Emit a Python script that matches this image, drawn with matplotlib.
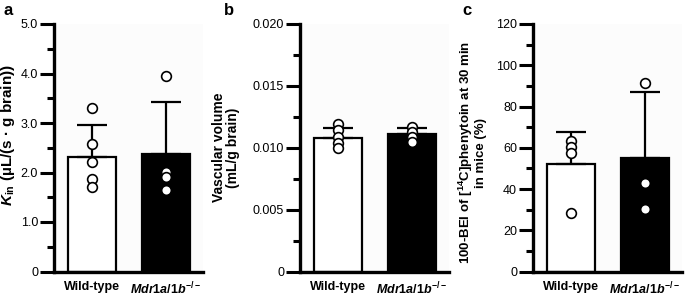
import matplotlib
matplotlib.use("Agg")
import matplotlib.pyplot as plt
from matplotlib.ticker import MultipleLocator

plt.rcParams["font.family"] = ["Liberation Sans", "DejaVu Sans"]
plt.rcParams["mathtext.fontset"] = "custom"
plt.rcParams["mathtext.rm"] = "Liberation Sans:bold"
plt.rcParams["mathtext.it"] = "Liberation Sans:bold:italic"
plt.rcParams["mathtext.bf"] = "Liberation Sans:bold"

groups = ["Wild-type", r"$\mathit{Mdr1a/1b}^{-/-}$"]

# panel a: Kin
kin_mean = [2.32, 2.38]
kin_sd = [0.64, 1.05]
kin_wt = [3.30, 2.58, 2.22, 1.87, 1.70]
kin_ko = [3.95, 2.02, 1.91, 1.65]

# panel b: vascular volume
vv_mean = [0.01076, 0.01111]
vv_sd = [0.00081, 0.00046]
vv_wt = [0.0119, 0.0114, 0.0109, 0.0104, 0.0100]
vv_ko = [0.0117, 0.0113, 0.0109, 0.0105]

# panel c: 100-BEI
bei_mean = [52.0, 54.9]
bei_sd = [15.8, 32.0]
bei_wt = [63.3, 60.2, 57.3, 28.5]
bei_ko = [91.2, 43.1, 30.1]

panels = [
    dict(letter="a", mean=kin_mean, sd=kin_sd, pts=[kin_wt, kin_ko],
         ylim=5.0, major=1.0, minor=0.5,
         ticklabels=["0", "1.0", "2.0", "3.0", "4.0", "5.0"],
         ylabel=r"$\mathit{K}_{\mathrm{in}}$ (µL/(s · g brain))", lsize=11,
         left=54, labelx=-0.25, labely=0.55),
    dict(letter="b", mean=vv_mean, sd=vv_sd, pts=[vv_wt, vv_ko],
         ylim=0.020, major=0.005, minor=0.0025,
         ticklabels=["0", "0.005", "0.010", "0.015", "0.020"],
         ylabel="Vascular volume\n(mL/g brain)", lsize=10,
         left=300, labelx=-0.405, labely=0.5),
    dict(letter="c", mean=bei_mean, sd=bei_sd, pts=[bei_wt, bei_ko],
         ylim=120, major=20, minor=10,
         ticklabels=["0", "20", "40", "60", "80", "100", "120"],
         ylabel="100-BEI of [$^{14}$C]phenytoin at 30 min\nin mice (%)", lsize=9.5,
         left=533, labelx=-0.31, labely=0.48),
]

W, H = 685, 297
fig = plt.figure(figsize=(W / 100, H / 100), dpi=100)

x = [0, 1]
colors = ["white", "black"]

for p in panels:
    ax = fig.add_axes([p["left"] / W, 1 - 271.5 / H, 149 / W, (271.5 - 24) / H])
    ax.bar(x, p["mean"], width=0.65, color=colors, edgecolor="black",
           linewidth=1.6, zorder=2)
    for i in x:
        ax.errorbar(x[i], p["mean"][i], yerr=[[0], [p["sd"][i]]], fmt="none",
                    ecolor="black", elinewidth=1.6, capsize=11, capthick=1.6,
                    zorder=3)
        ax.plot([x[i]] * len(p["pts"][i]), p["pts"][i], "o", ms=7,
                mfc="white", mec="black", mew=1.2, zorder=4, clip_on=False)
    ax.set_xlim(-0.52, 1.5)
    ax.set_ylim(0, p["ylim"])
    ax.yaxis.set_major_locator(MultipleLocator(p["major"]))
    ax.yaxis.set_minor_locator(MultipleLocator(p["minor"]))
    ax.set_yticks([i * p["major"] for i in range(len(p["ticklabels"]))])
    ax.set_yticklabels(p["ticklabels"], fontsize=9)
    ax.set_xticks(x)
    ax.set_xticklabels(groups, fontsize=9, fontweight="bold")
    ax.tick_params(axis="x", length=0, pad=6.5)
    ax.tick_params(axis="y", which="major", length=10, width=2.2, pad=1.5)
    ax.tick_params(axis="y", which="minor", length=5, width=2.2)
    for s in ["top", "right"]:
        ax.spines[s].set_visible(False)
    for s in ["left", "bottom"]:
        ax.spines[s].set_linewidth(2.4)
    ax.spines["left"].set_zorder(5)
    ax.set_ylabel(p["ylabel"], fontsize=p["lsize"], fontweight="bold",
                  linespacing=1.0)
    ax.yaxis.set_label_coords(p["labelx"], p["labely"])
    ax.set_facecolor("#fcfcfc")

fig.text(3 / W, 1 - 3 / H, "a", fontsize=12, fontweight="bold", va="top")
fig.text(224 / W, 1 - 3 / H, "b", fontsize=12, fontweight="bold", va="top")
fig.text(462 / W, 1 - 3 / H, "c", fontsize=12, fontweight="bold", va="top")

fig.savefig("out.png", dpi=100, facecolor="white")
